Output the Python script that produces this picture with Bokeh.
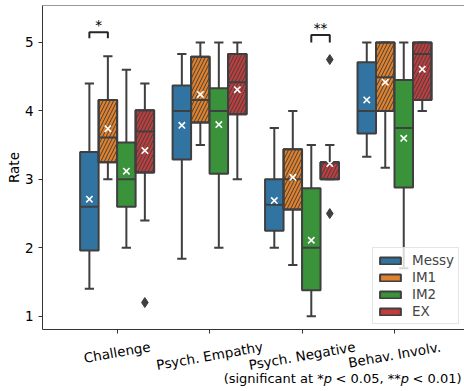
import math
from bokeh.plotting import figure
from bokeh.layouts import column
from bokeh.models import (ColumnDataSource, FixedTicker, Range1d, Legend,
                          LegendItem, Span, CustomJSTickFormatter)
from bokeh.core.properties import value
from bokeh.embed import file_html
from bokeh.resources import INLINE

# ---------------- data ----------------
categories = ["Challenge", "Psych. Empathy", "Psych. Negative", "Behav. Involv."]
groups = ["Messy", "IM1", "IM2", "EX"]
group_colors = ["#3274a1", "#e1812c", "#3a923a", "#c03d3e"]
group_hatched = [False, True, False, True]

# rows: Messy, IM1, IM2, EX ; columns follow `categories`
whisker_low = [
    [1.40, 1.84, 2.00, 3.33],
    [3.00, 3.50, 1.75, 3.17],
    [2.00, 2.00, 1.00, 1.70],
    [2.40, 3.00, 3.00, 4.00],
]
quartile_1 = [
    [1.96, 3.29, 2.25, 3.67],
    [3.25, 3.83, 2.56, 4.00],
    [2.60, 3.08, 1.38, 2.88],
    [3.10, 3.95, 3.00, 4.16],
]
medians = [
    [2.60, 4.00, 2.63, 4.00],
    [3.61, 4.16, 3.00, 4.49],
    [3.00, 4.00, 2.00, 3.75],
    [3.70, 4.42, 3.25, 4.83],
]
quartile_3 = [
    [3.40, 4.37, 3.00, 4.71],
    [4.16, 4.79, 3.44, 5.00],
    [3.54, 4.33, 2.87, 4.45],
    [4.01, 4.83, 3.25, 5.00],
]
whisker_high = [
    [4.40, 4.83, 3.75, 5.00],
    [4.80, 5.00, 4.00, 5.00],
    [4.60, 5.00, 3.50, 5.00],
    [4.40, 5.00, 3.50, 5.00],
]
means = [
    [2.71, 3.79, 2.69, 4.16],
    [3.74, 4.24, 3.03, 4.42],
    [3.12, 3.80, 2.11, 3.60],
    [3.42, 4.31, 3.23, 4.61],
]
outlier_group = [3, 3, 3]
outlier_category = [0, 2, 2]
outlier_value = [1.20, 4.75, 2.50]

sig_category = [0, 2]
sig_group_a = [0, 2]
sig_group_b = [1, 3]
sig_top = [5.15, 5.11]
sig_leg = [5.06, 5.00]
sig_text = ["*", "**"]

y_ticks = [1, 2, 3, 4, 5]
y_label = "Rate"
footnote_parts = ["(significant at *", "p", "< 0.05, **", "p", "< 0.01)"]
footnote_styles = ["normal", "italic", "normal", "italic", "normal"]

# ---------------- styling ----------------
FONT = "DejaVu Sans"
FS = "13.5px"
FS_NUM = 13.5
EDGE = "#3f3f3f"
SPINE = "#333333"
group_offsets = [-0.3, -0.1, 0.1, 0.3]
half_box = 0.1
half_cap = 0.05
LEFT = 42          # left border shared by both stacked figures
W = 464
H_MAIN = 337
H_LAB = 54

# DejaVu Sans advance widths (em), used to lay out rotated / composed labels
ADV = {" ": .318, "(": .390, ")": .390, "*": .5, ",": .318, ".": .318, "<": .838,
       "0": .636, "1": .636, "5": .636, "s": .521, "i": .278, "g": .635, "n": .634,
       "f": .352, "c": .550, "a": .613, "t": .392, "p": .635, "C": .698, "h": .634,
       "l": .278, "e": .615, "P": .603, "y": .592, "E": .632, "m": .974, "N": .748,
       "v": .592, "B": .686, "I": .295, "o": .612}
# extra math spacing after each part of the footnote (em)
footnote_gaps = [0.0, 0.27, 0.0, 0.27, 0.0]


def text_px(s, size):
    return sum(ADV.get(ch, 0.6) for ch in s) * size


p = figure(width=W, height=H_MAIN,
           x_range=Range1d(-0.807, 3.757), y_range=Range1d(0.806, 5.54),
           output_backend="svg", toolbar_location=None,
           min_border_left=LEFT, min_border_right=0, min_border_top=5,
           min_border_bottom=8)
p.background_fill_color = "white"
p.border_fill_color = "white"
p.outline_line_color = None
p.xgrid.visible = False
p.ygrid.visible = False

# axes
p.yaxis.ticker = FixedTicker(ticks=y_ticks)
p.yaxis.axis_label = y_label
p.yaxis.axis_label_text_font_style = "normal"
p.yaxis.axis_label_text_font_size = FS
p.yaxis.axis_label_text_font = FONT
p.yaxis.axis_label_text_color = "black"
p.yaxis.axis_label_standoff = 0
p.yaxis.major_label_standoff = 5
p.yaxis.major_label_text_font_size = FS
p.yaxis.major_label_text_font = FONT
p.yaxis.major_label_text_color = "black"
p.xaxis.ticker = FixedTicker(ticks=list(range(len(categories))))
p.xaxis.formatter = CustomJSTickFormatter(code="return ''")
p.xaxis.major_label_standoff = 0
p.xaxis.major_label_text_font_size = "1px"
for ax in (p.xaxis, p.yaxis):
    ax.major_tick_out = 4
    ax.major_tick_in = 0
    ax.minor_tick_line_color = None
    ax.axis_line_color = SPINE
    ax.major_tick_line_color = SPINE
    ax.axis_line_width = 1

p.add_layout(Span(location=p.y_range.end, dimension="width",
                  line_color=SPINE, line_width=1))

# boxes
legend_renderers = []
for g in range(len(groups)):
    xs = [i + group_offsets[g] for i in range(len(categories))]
    src = ColumnDataSource(dict(
        x=xs,
        left=[x - half_box for x in xs], right=[x + half_box for x in xs],
        cl=[x - half_cap for x in xs], cr=[x + half_cap for x in xs],
        low=whisker_low[g], q1=quartile_1[g], med=medians[g],
        q3=quartile_3[g], high=whisker_high[g], mean=means[g]))
    p.segment(x0="x", y0="q3", x1="x", y1="high", source=src,
              line_color=EDGE, line_width=2)
    p.segment(x0="x", y0="low", x1="x", y1="q1", source=src,
              line_color=EDGE, line_width=2)
    p.segment(x0="cl", y0="high", x1="cr", y1="high", source=src,
              line_color=EDGE, line_width=2)
    p.segment(x0="cl", y0="low", x1="cr", y1="low", source=src,
              line_color=EDGE, line_width=2)
    box = p.quad(left="left", right="right", bottom="q1", top="q3", source=src,
                 fill_color=group_colors[g], line_color=EDGE, line_width=2)
    legend_renderers.append(box)
    if group_hatched[g]:
        p.quad(left="left", right="right", bottom="q1", top="q3", source=src,
               fill_alpha=0, hatch_pattern="/", hatch_color=EDGE,
               hatch_scale=7, hatch_weight=1, line_color=EDGE, line_width=2)
    p.segment(x0="left", y0="med", x1="right", y1="med", source=src,
              line_color=EDGE, line_width=2)
    p.scatter(x="x", y="mean", source=src, marker="x", size=9,
              line_color="white", line_width=1.6)

# outliers
out_src = ColumnDataSource(dict(
    x=[outlier_category[k] + group_offsets[outlier_group[k]] for k in range(len(outlier_value))],
    y=outlier_value))
p.scatter(x="x", y="y", source=out_src, marker="diamond", size=10,
          fill_color=EDGE, line_color=EDGE)

# significance brackets
br_xs, br_ys, st_x, st_y = [], [], [], []
for k in range(len(sig_text)):
    xa = sig_category[k] + group_offsets[sig_group_a[k]]
    xb = sig_category[k] + group_offsets[sig_group_b[k]]
    br_xs.append([xa, xa, xb, xb])
    br_ys.append([sig_leg[k], sig_top[k], sig_top[k], sig_leg[k]])
    st_x.append((xa + xb) / 2)
    st_y.append(sig_top[k])
p.multi_line(xs=br_xs, ys=br_ys, line_color="#262626", line_width=2)
p.text(x=st_x, y=st_y, text=sig_text, text_align="center",
       text_baseline="alphabetic", y_offset=-7, text_font_size=FS,
       text_font=value(FONT), text_color="black")

# legend (plain patches, as in the reference)
items = [LegendItem(label=groups[g], renderers=[legend_renderers[g]])
         for g in range(len(groups))]
legend = Legend(items=items, location="bottom_right",
                label_text_font_size=FS, label_text_font=FONT,
                glyph_width=26, glyph_height=9, label_height=15,
                label_standoff=9, padding=4, spacing=1, margin=5,
                border_line_color="#cccccc", border_line_width=1,
                background_fill_alpha=0.8)
p.add_layout(legend)

# ---------------- strip below the axis: category labels + footnote ----------------
lab = figure(width=W, height=H_LAB, x_range=p.x_range,
             y_range=Range1d(0, H_LAB), output_backend="svg",
             toolbar_location=None, x_axis_type=None, y_axis_type=None,
             min_border_left=LEFT, min_border_right=0, min_border_top=0,
             min_border_bottom=0)
lab.outline_line_color = None
lab.background_fill_color = "white"
lab.border_fill_color = "white"

ang = math.radians(10)
lab_y = []
for name in categories:
    w = text_px(name, FS_NUM)
    h = FS_NUM * 1.17
    bbox_h = w * math.sin(ang) + h * math.cos(ang)
    lab_y.append(H_LAB - (1 + bbox_h / 2))
lab.text(x=list(range(len(categories))), y=lab_y, text=categories, angle=ang,
         text_align="center", text_baseline="middle", text_font_size=FS,
         text_font=value(FONT), text_color="black")

FN = 13.0
widths = [text_px(s, FN) + gap * FN for s, gap in zip(footnote_parts, footnote_gaps)]
total = sum(widths)
for k, (part, style) in enumerate(zip(footnote_parts, footnote_styles)):
    before = sum(widths[:k])
    lab.text(x=[p.x_range.end], y=[H_LAB - 41], text=[part],
             x_offset=-(3 + total) + before, text_align="left",
             text_baseline="alphabetic", text_font_size=f"{FN}px",
             text_font=value(FONT), text_font_style=style, text_color="black")

layout = column(p, lab, spacing=0)
open("out.html", "w").write(file_html(layout, INLINE))
